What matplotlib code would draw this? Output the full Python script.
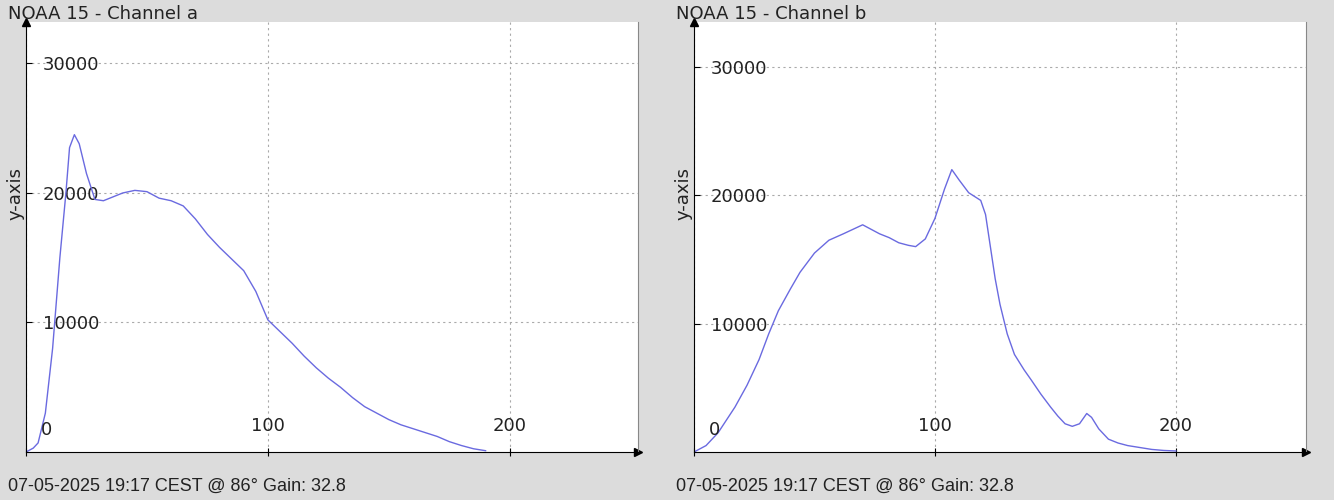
import matplotlib.pyplot as plt

# Channel a
xa = [0, 3, 5, 8, 11, 14, 16.5, 18, 20, 22, 25, 28.5, 32, 36, 40, 45, 50, 55, 60, 65, 70, 75, 80, 85, 90,
      95, 100, 105, 110, 115, 120, 125, 130, 135, 140, 145, 150, 155, 160, 165, 170, 175, 180, 185, 190]
ya = [0, 300, 700, 3000, 8000, 15000, 20000, 23500, 24500, 23800, 21500, 19500, 19400, 19700, 20000, 20200,
      20100, 19600, 19400, 19000, 18000, 16800, 15800, 14900, 14000, 12400, 10200, 9300, 8400, 7400, 6500,
      5700, 5000, 4200, 3500, 3000, 2500, 2100, 1800, 1500, 1200, 800, 500, 250, 100]

# Channel b
xb = [0, 5, 10, 17, 22, 27, 31, 35, 40, 44, 50, 56, 62, 70, 74, 77, 81, 85, 89, 92, 96, 100, 104, 107, 110,
      114, 119, 121, 123, 125, 127, 130, 133, 137, 140, 144, 148, 151, 154, 157, 160, 163, 165, 168, 172,
      176, 180, 185, 190, 195, 200]
yb = [0, 500, 1500, 3500, 5200, 7200, 9200, 11000, 12700, 14000, 15500, 16500, 17000, 17700, 17300, 17000,
      16700, 16300, 16100, 16000, 16600, 18200, 20500, 22000, 21200, 20200, 19600, 18500, 16000, 13500,
      11500, 9200, 7600, 6400, 5600, 4500, 3500, 2800, 2200, 2000, 2200, 3000, 2700, 1800, 1000, 700, 500,
      350, 200, 120, 80]

panels = [("NOAA 15 - Channel a", xa, ya, 253, 33200),
          ("NOAA 15 - Channel b", xb, yb, 254, 33500)]
footer = "07-05-2025 19:17 CEST @ 86\u00b0 Gain: 32.8"

fig = plt.figure(figsize=(13.34, 5.0), dpi=100, facecolor="#dcdcdc")
lefts = [26 / 1334, 694 / 1334]
for (title, x, y, xmax, ymax), left in zip(panels, lefts):
    ax = fig.add_axes([left, 48 / 500, 612 / 1334, 430 / 500])
    ax.plot(x, y, color="#6a6ae0", linewidth=1)
    ax.set_xlim(0, xmax)
    ax.set_ylim(0, ymax)
    ax.set_xticks([0, 100, 200])
    ax.set_xticklabels(["", "100", "200"])
    ax.set_yticks([10000, 20000, 30000])
    ax.grid(True, linestyle=(0, (2, 3)), color="#aaaaaa", linewidth=0.8)
    ax.tick_params(axis="y", direction="in", pad=-12, labelsize=13, length=4, labelcolor="#222222")
    ax.tick_params(axis="x", direction="inout", pad=-28, labelsize=13, length=6, labelcolor="#222222")
    for lab in ax.get_yticklabels():
        lab.set_horizontalalignment("left")
    ax.text(0.025, 0.04, "0", transform=ax.transAxes, fontsize=13, color="#222222")
    ax.spines["top"].set_visible(False)
    ax.spines["right"].set_color("#888888")
    ax.plot(1, 0, ">k", transform=ax.transAxes, clip_on=False, markersize=6)
    ax.plot(0, 1, "^k", transform=ax.transAxes, clip_on=False, markersize=6)
    ax.set_ylabel("y-axis", fontsize=13, color="#222222")
    ax.yaxis.set_label_coords(-0.003, 0.6)
    fig.text(left - 18 / 1334, 1 - 14 / 500, title, fontsize=13, va="center", color="#222222")
    fig.text(left - 18 / 1334, 14 / 500, footer, fontsize=13, va="center", color="#222222",
             family="Liberation Sans")

fig.savefig("out.png", facecolor=fig.get_facecolor())
